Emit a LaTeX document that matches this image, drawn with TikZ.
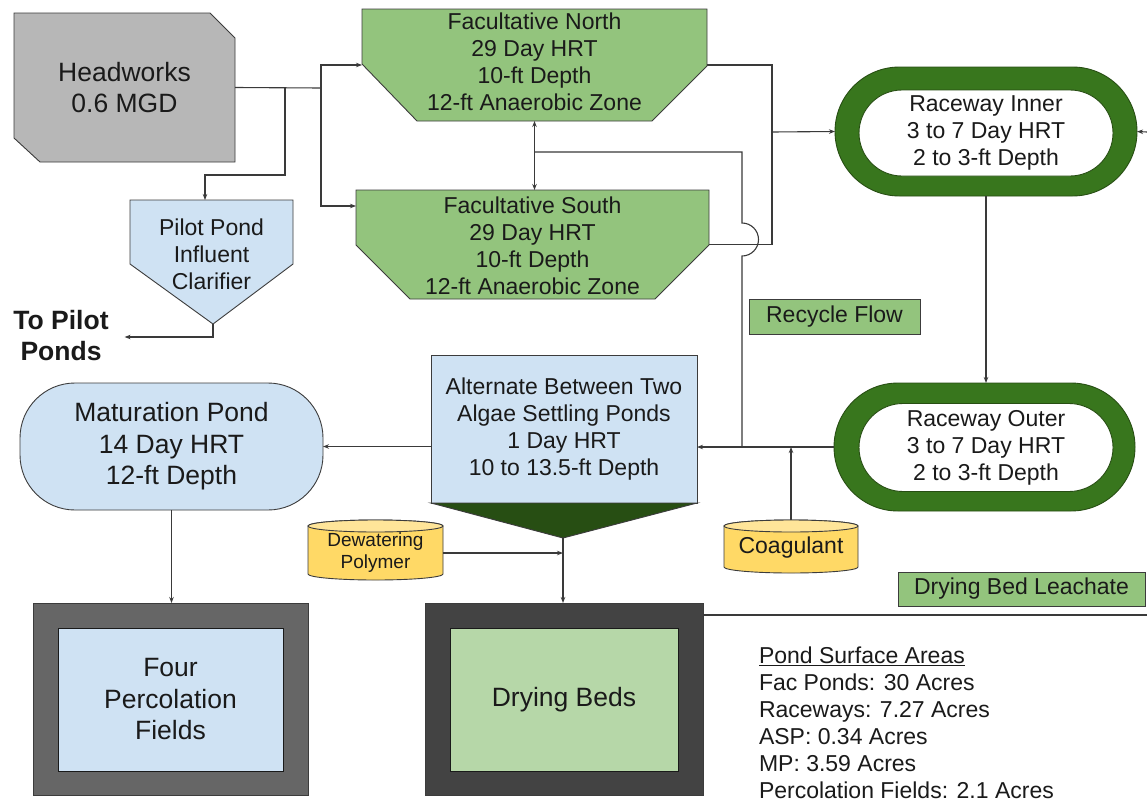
\documentclass[tikz,border=0pt]{standalone}
\usepackage{fontspec}
\setmainfont{Liberation Sans}
\usetikzlibrary{arrows.meta,calc,shapes.misc}
\definecolor{facgreen}{HTML}{93C47D}
\definecolor{racegreen}{HTML}{38761D}
\definecolor{deepgreen}{HTML}{274E13}
\definecolor{paleblue}{HTML}{CFE2F3}
\definecolor{hwgray}{HTML}{B7B7B7}
\definecolor{polyyellow}{HTML}{FFD966}
\definecolor{polytop}{HTML}{FFE599}
\definecolor{percgray}{HTML}{666666}
\definecolor{bedgray}{HTML}{434343}
\definecolor{bedgreen}{HTML}{B6D7A8}
\definecolor{edge}{HTML}{3C3C3C}
\definecolor{flow}{HTML}{3A3A3A}
\definecolor{ink}{HTML}{1A1A1A}
\begin{document}
\begin{tikzpicture}[x=1pt,y=-1pt,
  every node/.style={inner sep=0pt,outer sep=0pt,text=ink},
  mid/.style={font={\fontsize{23}{27}\selectfont},align=center},
  big/.style={font={\fontsize{26.5}{31.5}\selectfont},align=center},
  small/.style={font={\fontsize{19}{22}\selectfont},align=center},
  outline/.style={draw=edge,line width=0.9pt},
  flowline/.style={draw=flow,line width=1.1pt},
  arr/.style={flowline,-{Stealth[length=6pt,width=4.5pt]}},
  twoway/.style={flowline,{Stealth[length=6pt,width=4.5pt]}-{Stealth[length=6pt,width=4.5pt]}},
  tag/.style={mid,outline,fill=facgreen},
  ring/.style={rounded rectangle,fill=racegreen,draw=deepgreen,line width=0.9pt},
  track/.style={rounded rectangle,fill=white,draw=deepgreen,line width=0.9pt,mid}]
\useasboundingbox (0,0) rectangle (1147,803);
\fill[white] (0,0) rectangle (1147,803);

% ---- headworks ----
\draw[outline,fill=hwgray] (14,13) -- (210,13) -- (235,38) -- (235,162) -- (40,162) -- (14,138) -- cycle;
\node[big,minimum width=221pt,minimum height=149pt] (hw) at (124.5,87.5) {Headworks\\0.6 MGD};

% ---- pilot pond influent clarifier ----
\draw[outline,fill=paleblue] (130,200) -- (293,200) -- (293,264) -- (213,324) -- (130,264) -- cycle;
\node[minimum width=163pt,minimum height=124pt] (ppc) at (211.5,262) {};
\node[mid] (ppct) at (211.5,254) {Pilot Pond\\Influent\\Clarifier};
\coordinate (ppctip) at (213,324);
\node[font={\fontsize{26.5}{31}\selectfont\bfseries},align=center] (topp) at (61,335.5) {To Pilot\\Ponds};

% ---- facultative ponds ----
\draw[outline,fill=facgreen] (362,9) -- (707,9) -- (707,66) -- (652,121) -- (417,121) -- (362,64) -- cycle;
\node[minimum width=345pt,minimum height=112pt] (fn) at (534.5,65) {};
\node[mid] (fnt) at (534.5,61.5) {Facultative North\\29 Day HRT\\10-ft Depth\\12-ft Anaerobic Zone};

\draw[outline,fill=facgreen] (356,190) -- (709,190) -- (709,245) -- (655,299) -- (410,299) -- (356,245) -- cycle;
\node[minimum width=353pt,minimum height=109pt] (fs) at (532.5,244.5) {};
\node[mid] (fst) at (532.5,245.5) {Facultative South\\29 Day HRT\\10-ft Depth\\12-ft Anaerobic Zone};

% ---- raceways ----
\node[ring,minimum width=302pt,minimum height=129pt] (ri) at (986,131.5) {};
\node[track,minimum width=254pt,minimum height=86pt] (rit) at (986,133) {Raceway Inner\\3 to 7 Day HRT\\2 to 3-ft Depth};
\node[ring,minimum width=301pt,minimum height=128pt] (ro) at (984.5,447) {};
\node[track,minimum width=254pt,minimum height=88pt] (rot) at (986,447.5) {Raceway Outer\\3 to 7 Day HRT\\2 to 3-ft Depth};

% ---- algae settling ponds ----
\node[mid,outline,fill=paleblue,minimum width=266pt,minimum height=148pt] (asp) at (564,429)
  {Alternate Between Two\\Algae Settling Ponds\\1 Day HRT\\10 to 13.5-ft Depth};
\coordinate (asptip) at ($(asp.south)+(-1,35)$);
\draw[outline,fill=deepgreen] (asp.south west) -- (asp.south east) -- (asptip) -- cycle;

% ---- maturation pond ----
\node[big,outline,fill=paleblue,rounded corners=55pt,minimum width=303pt,minimum height=127pt] (mp) at (171.5,446.5)
  {Maturation Pond\\14 Day HRT\\12-ft Depth};

% ---- chemical feed tanks ----
\draw[outline,fill=polyyellow] (308,526) -- (308,574) arc[start angle=180,end angle=0,x radius=67.5,y radius=6]
  -- (443,526) arc[start angle=0,end angle=-180,x radius=67.5,y radius=6] -- cycle;
\draw[outline,fill=polytop] (375.5,526) ellipse[x radius=67.5,y radius=6];
\node[small,minimum width=135pt,minimum height=54pt] (dwp) at (375.5,553) {Dewatering\\Polymer};

\draw[outline,fill=polyyellow] (724,526) -- (724,567) arc[start angle=180,end angle=0,x radius=67,y radius=6]
  -- (858,526) arc[start angle=0,end angle=-180,x radius=67,y radius=6] -- cycle;
\draw[outline,fill=polytop] (791,526) ellipse[x radius=67,y radius=6];
\node[mid,minimum width=134pt,minimum height=56pt] (coag) at (791,548) {Coagulant};

% ---- percolation fields and drying beds ----
\node[outline,fill=percgray,minimum width=275pt,minimum height=192pt] (pf) at (170.5,699) {};
\node[big,draw=ink,line width=0.9pt,fill=paleblue,minimum width=225pt,minimum height=143pt] (pft) at (170.5,699.5) {Four\\Percolation\\Fields};
\node[outline,fill=bedgray,minimum width=278pt,minimum height=192pt] (db) at (564,699) {};
\node[big,draw=ink,line width=0.9pt,fill=bedgreen,minimum width=228pt,minimum height=143pt] (dbt) at (564,699.5) {Drying Beds};

% ---- flow labels ----
\node[tag,minimum width=171pt,minimum height=35pt] (rf) at (834.5,316.5) {Recycle Flow};
\node[tag,minimum width=247pt,minimum height=34pt] (dbleach) at (1021.5,589) {Drying Bed Leachate};

% ---- surface area table ----
\node[mid,align=left,anchor=west] (psa) at (759,723)
  {\underline{Pond Surface Areas}\\Fac Ponds: 30 Acres\\Raceways: 7.27 Acres\\ASP: 0.34 Acres\\MP: 3.59 Acres\\Percolation Fields: 2.1 Acres};

% ---- connectors ----
\coordinate (jf) at (321,88);
\coordinate (jp) at (285,88);
\draw[flowline] (hw.east) -- (jf);
\draw[arr] (jf) |- (fn.west);
\draw[arr] (jf) |- ($(fs.north west)+(0,16)$);
\draw[arr] (jp) |- ($(ppc.north)+(-6.5,-25)$) -- ($(ppc.north)+(-6.5,0)$);
\draw[arr] (ppctip) |- ($(topp.east)+(16,1.5)$);

\draw[twoway] (fn.south) -- (fn.south |- fs.north);

\coordinate (jr) at (772,132);
\draw[flowline] (fn.east) -| (jr);
\draw[flowline] (fs.east) -| (jr);
\draw[arr] (jr) -- (ri.west);

\coordinate (jrx) at (742,447);
\draw[flowline] ($(fn.south)+(0,31)$) -| (742,223) arc[start angle=-90,end angle=90,radius=16.5] -- (jrx);

\coordinate (rin) at (1147,132);
\draw[arr] (rin) -- (ri.east);
\draw[arr] (ri.south) -- (ri.south |- ro.north);

\draw[arr] (ro.west) -- (asp.east |- ro.west);
\draw[arr] (coag.north) -- (coag.north |- ro.west);

\draw[arr] (asp.west |- mp.east) -- (mp.east);
\draw[arr] (mp.south) -- (mp.south |- pf.north);

\draw[arr] (asptip) -- (asptip |- db.north);
\draw[arr] (dwp.east) -- (dwp.east -| asptip);

\coordinate (dbl) at (1147,615);
\draw[flowline] ($(db.north east)+(0,12)$) -- (dbl);
\end{tikzpicture}
\end{document}
